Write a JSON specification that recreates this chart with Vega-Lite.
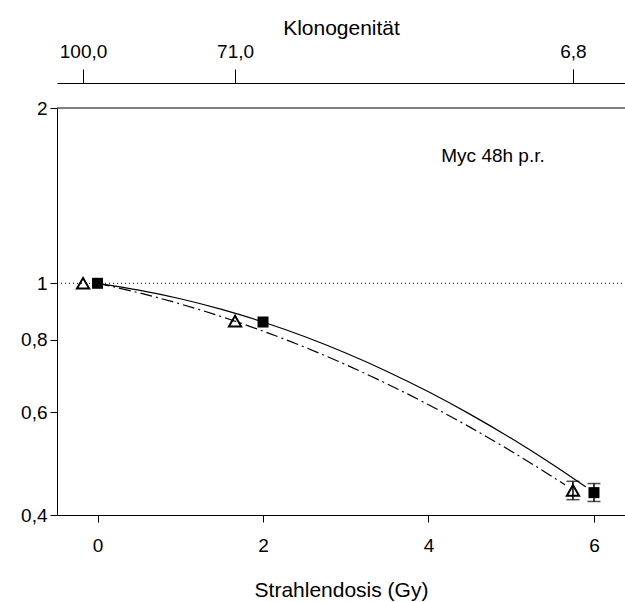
{
  "$schema": "https://vega.github.io/schema/vega-lite/v6.json",
  "autosize": {"type": "none"},
  "padding": {"left": 57, "top": 108, "right": 0, "bottom": 87},
  "width": 568,
  "height": 407,
  "background": "white",
  "config": {
    "view": {"stroke": null},
    "font": "Liberation Sans",
    "axis": {
      "domainColor": "black", "tickColor": "black", "labelColor": "black", "titleColor": "black",
      "labelFont": "Liberation Sans", "titleFont": "Liberation Sans",
      "labelFontSize": 19, "titleFontSize": 21, "titleFontWeight": "normal",
      "grid": false, "domainWidth": 1, "tickWidth": 1
    }
  },
  "datasets": {
    "solid": [
      {"x": 0, "y": 1}, {"x": 0.5, "y": 0.9736}, {"x": 1, "y": 0.9407}, {"x": 1.5, "y": 0.9019},
      {"x": 2, "y": 0.8581}, {"x": 2.5, "y": 0.8102}, {"x": 3, "y": 0.759}, {"x": 3.5, "y": 0.7057},
      {"x": 4, "y": 0.6511}, {"x": 4.5, "y": 0.5961}, {"x": 5, "y": 0.5416}, {"x": 5.5, "y": 0.4883},
      {"x": 5.9, "y": 0.447}
    ],
    "dashdot": [
      {"x": 0, "y": 1}, {"x": 0.5, "y": 0.963}, {"x": 1, "y": 0.9215}, {"x": 1.5, "y": 0.8762},
      {"x": 2, "y": 0.8278}, {"x": 2.5, "y": 0.777}, {"x": 3, "y": 0.7248}, {"x": 3.5, "y": 0.6718},
      {"x": 4, "y": 0.6187}, {"x": 4.5, "y": 0.5662}, {"x": 5, "y": 0.5148}, {"x": 5.5, "y": 0.4651},
      {"x": 5.65, "y": 0.4506}
    ],
    "squares": [
      {"x": 0, "y": 1}, {"x": 2, "y": 0.858}, {"x": 6, "y": 0.437}
    ],
    "triangles": [
      {"x": -0.175, "y": 1}, {"x": 1.662, "y": 0.861}, {"x": 5.746, "y": 0.441}
    ],
    "errors": [
      {"x": 6, "lo": 0.422, "hi": 0.453},
      {"x": 5.746, "lo": 0.425, "hi": 0.457}
    ],
    "refs": [
      {"x": -0.49, "x2": 6.375, "y": 2, "kind": "frame"},
      {"x": -0.49, "x2": 6.375, "y": 1, "kind": "dotted"}
    ],
    "label": [
      {"x": 4.78, "y": 1.656, "text": "Myc 48h p.r."}
    ]
  },
  "encoding": {
    "x": {"field": "x", "type": "quantitative", "scale": {"domain": [-0.49, 6.375], "nice": false, "zero": false}, "axis": null},
    "y": {"field": "y", "type": "quantitative", "scale": {"type": "log", "domain": [0.4, 2], "nice": false}, "axis": null}
  },
  "resolve": {"axis": {"x": "independent", "y": "independent"}},
  "layer": [
    {
      "data": {"name": "refs"},
      "transform": [{"filter": "datum.kind == 'frame'"}],
      "mark": {"type": "rule", "color": "black", "strokeWidth": 1},
      "encoding": {"x2": {"field": "x2"}}
    },
    {
      "data": {"name": "refs"},
      "transform": [{"filter": "datum.kind == 'dotted'"}],
      "mark": {"type": "rule", "color": "black", "strokeWidth": 1, "strokeDash": [1, 3]},
      "encoding": {"x2": {"field": "x2"}}
    },
    {
      "data": {"name": "solid"},
      "mark": {"type": "line", "color": "black", "strokeWidth": 1.2, "interpolate": "monotone"},
      "encoding": {}
    },
    {
      "data": {"name": "dashdot"},
      "mark": {"type": "line", "color": "black", "strokeWidth": 1.2, "interpolate": "monotone", "strokeDash": [12, 4, 2, 4]},
      "encoding": {}
    },
    {
      "data": {"name": "errors"},
      "mark": {"type": "errorbar", "color": "black", "thickness": 1.5, "ticks": {"size": 13, "thickness": 1.5}},
      "encoding": {
        "y": {"field": "lo", "type": "quantitative", "scale": {"type": "log", "domain": [0.4, 2], "nice": false}, "axis": null},
        "y2": {"field": "hi"}
      }
    },
    {
      "data": {"name": "triangles"},
      "mark": {"type": "point", "shape": "triangle-up", "filled": false, "color": "black", "strokeWidth": 2, "size": 150, "opacity": 1},
      "encoding": {
        "x": {
          "field": "x", "type": "quantitative",
          "scale": {"domain": [-0.49, 6.375], "nice": false, "zero": false},
          "axis": {
            "orient": "top", "title": "Klonogenität", "offset": 25,
            "values": [-0.175, 1.662, 5.746],
            "labelExpr": "datum.value < 0 ? '100,0' : (datum.value < 3 ? '71,0' : '6,8')",
            "tickSize": 14, "labelPadding": 8, "titlePadding": 4
          }
        }
      }
    },
    {
      "data": {"name": "squares"},
      "mark": {"type": "square", "color": "black", "filled": true, "size": 121, "opacity": 1},
      "encoding": {
        "x": {
          "field": "x", "type": "quantitative",
          "scale": {"domain": [-0.49, 6.375], "nice": false, "zero": false},
          "axis": {
            "orient": "bottom", "title": "Strahlendosis (Gy)",
            "values": [0, 2, 4, 6], "tickSize": 7, "labelPadding": 14, "titlePadding": 24
          }
        },
        "y": {
          "field": "y", "type": "quantitative",
          "scale": {"type": "log", "domain": [0.4, 2], "nice": false},
          "axis": {
            "orient": "left", "title": null, "values": [0.4, 0.6, 0.8, 1, 2],
            "labelExpr": "replace(toString(datum.value), '.', ',')",
            "tickSize": 7, "labelPadding": 3
          }
        }
      }
    },
    {
      "data": {"name": "label"},
      "mark": {"type": "text", "color": "black", "fontSize": 19, "font": "Liberation Sans"},
      "encoding": {"text": {"field": "text"}}
    }
  ]
}
